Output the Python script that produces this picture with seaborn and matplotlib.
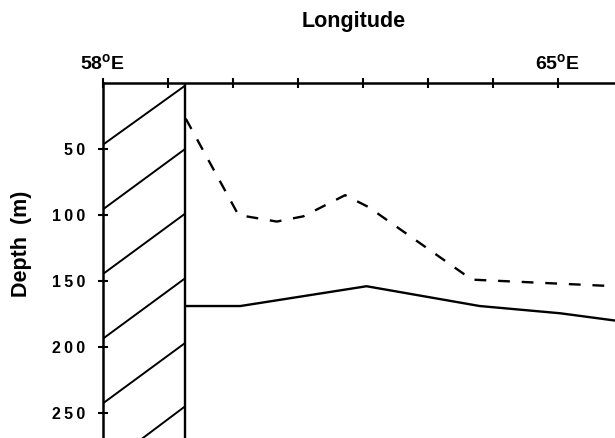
import matplotlib
matplotlib.use("Agg")
import matplotlib.pyplot as plt
import seaborn as sns
import pandas as pd

# ---- data ----
dashed_lon = [59.28, 60.09, 60.68, 61.09, 61.73, 62.09, 63.68, 65.88]
dashed_depth = [27, 100, 105, 101, 85, 94, 149, 154]

solid_lon = [59.28, 60.12, 62.06, 63.80, 65.04, 65.88]
solid_depth = [169, 169, 154, 169, 174.5, 180]

land_edge_lon = 59.27
hatch_left_depth = [47, 96, 145, 194, 243, 292]
hatch_right_depth = [2, 50, 99, 148, 197, 245]

x_ticks = [58, 59, 60, 61, 62, 63, 64, 65]
x_ticklabels = [r"58$^{\mathbf{o}}$E", "", "", "", "", "", "", r"65$^{\mathbf{o}}$E"]
y_ticks = [50, 100, 150, 200, 250]
y_ticklabels = ["5\u20090", "1\u20090\u20090", "1\u20095\u20090", "2\u20090\u20090", "2\u20095\u20090"]

x_lim = (58, 65.88)
y_lim = (0, 269)

# ---- style ----
sns.set_style("ticks")
plt.rcParams["font.family"] = ["Liberation Sans", "DejaVu Sans"]
plt.rcParams["font.weight"] = "bold"
plt.rcParams["text.color"] = "black"
plt.rcParams["xtick.color"] = "black"
plt.rcParams["ytick.color"] = "black"
plt.rcParams["axes.edgecolor"] = "black"
plt.rcParams["mathtext.fontset"] = "custom"
plt.rcParams["mathtext.rm"] = "Liberation Sans:bold"
plt.rcParams["mathtext.bf"] = "Liberation Sans:bold"
plt.rcParams["mathtext.it"] = "Liberation Sans:bold"

fig = plt.figure(figsize=(6.15, 4.38), dpi=100)
ax = fig.add_axes([102.5 / 615, 0.0, 1 - 102.5 / 615, 1 - 83 / 438])

df_dash = pd.DataFrame({"lon": dashed_lon, "depth": dashed_depth})
df_solid = pd.DataFrame({"lon": solid_lon, "depth": solid_depth})

sns.lineplot(data=df_dash, x="lon", y="depth", ax=ax, color="black",
             linewidth=1.7, sort=False, estimator=None)
ax.lines[-1].set_dashes([5, 5])
sns.lineplot(data=df_solid, x="lon", y="depth", ax=ax, color="black",
             linewidth=1.7, sort=False, estimator=None)

# land strip
ax.plot([land_edge_lon, land_edge_lon], [0, y_lim[1]], color="black", linewidth=1.7,
        solid_capstyle="butt")
for dl, dr in zip(hatch_left_depth, hatch_right_depth):
    ax.plot([x_lim[0], land_edge_lon], [dl, dr], color="black", linewidth=1.4)

ax.set_xlim(*x_lim)
ax.set_ylim(y_lim[1], y_lim[0])

ax.xaxis.tick_top()
ax.set_xticks(x_ticks)
ax.set_xticklabels(x_ticklabels, fontsize=14, fontweight="bold")
ax.set_yticks(y_ticks)
ax.set_yticklabels(y_ticklabels, fontsize=11.5, fontweight="bold")
ax.tick_params(axis="x", direction="inout", length=7, width=1.5, pad=4, top=True, bottom=False)
ax.tick_params(axis="y", direction="inout", length=7, width=1.5, pad=9)

for s in ["right", "bottom"]:
    ax.spines[s].set_visible(False)
for s in ["top", "left"]:
    ax.spines[s].set_linewidth(1.8)
    ax.spines[s].set_color("black")

ax.set_xlabel("")
ax.set_ylabel("")

fig.text(354 / 615, 1 - 27 / 438, "Longitude", ha="center", va="baseline",
         fontsize=15.5, fontweight="bold")
fig.text(22 / 615, 1 - 244 / 438, "Depth  (m)", ha="center", va="center",
         rotation=90, fontsize=15.5, fontweight="bold")

fig.savefig("out.png", dpi=100)
